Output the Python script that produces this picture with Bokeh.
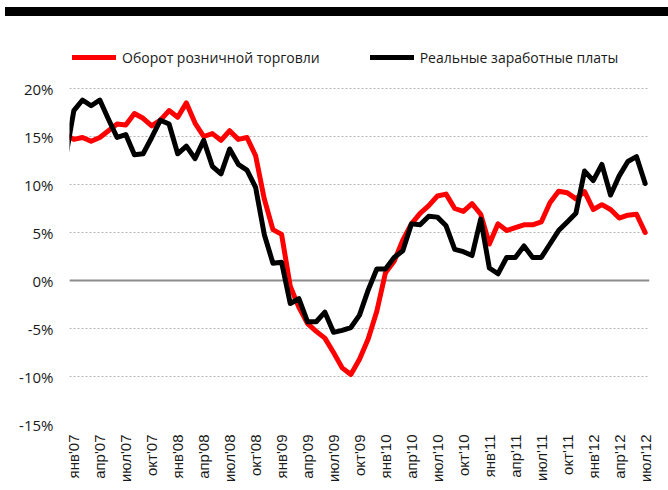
import math
from bokeh.plotting import figure
from bokeh.models import (FixedTicker, PrintfTickFormatter, Span, Legend,
                          LegendItem, Div, Range1d)
from bokeh.layouts import column
from bokeh.embed import file_html
from bokeh.resources import INLINE

# month index: -1 = Dec 2006, 0 = Jan 2007 ... 66 = Jul 2012
month_index = list(range(-1, 67))

retail = [15.2, 14.7, 14.9, 14.5, 14.9, 15.6, 16.3, 16.2, 17.4, 16.9, 16.1, 16.7,
          17.7, 17.0, 18.5, 16.4, 15.0, 15.3, 14.6, 15.6, 14.7, 14.9, 13.0, 8.5,
          5.3, 4.8, -0.6, -2.8, -4.5, -5.3, -6.0, -7.5, -9.1, -9.8, -8.2, -6.1,
          -3.2, 0.8, 2.0, 4.2, 5.9, 7.0, 7.8, 8.8, 9.0, 7.5, 7.2, 8.0,
          6.9, 3.8, 5.9, 5.2, 5.5, 5.8, 5.8, 6.1, 8.1, 9.3, 9.15, 8.5,
          9.25, 7.4, 7.9, 7.4, 6.5, 6.8, 6.9, 5.0]

wages = [12.5, 17.7, 18.8, 18.2, 18.8, 16.8, 14.9, 15.2, 13.1, 13.2, 14.9, 16.7,
         16.3, 13.2, 14.0, 12.7, 14.6, 11.9, 11.1, 13.7, 12.1, 11.5, 9.7, 4.8,
         1.8, 1.9, -2.4, -1.9, -4.3, -4.3, -3.3, -5.4, -5.2, -4.9, -3.6, -1.0,
         1.2, 1.2, 2.4, 3.1, 5.9, 5.8, 6.7, 6.6, 5.7, 3.25, 3.0, 2.6,
         6.4, 1.3, 0.7, 2.4, 2.4, 3.6, 2.4, 2.4, 3.8, 5.2, 6.1, 7.0,
         11.4, 10.4, 12.1, 8.9, 10.9, 12.4, 12.9, 10.1]

series_names = ["Оборот розничной торговли", "Реальные заработные платы"]

tick_positions = list(range(0, 67, 3))
tick_labels = ["янв'07", "апр'07", "июл'07", "окт'07",
               "янв'08", "апр'08", "июл'08", "окт'08",
               "янв'09", "апр'09", "июл'09", "окт'09",
               "янв'10", "апр'10", "июл'10", "окт'10",
               "янв'11", "апр'11", "июл'11", "окт'11",
               "янв'12", "апр'12", "июл'12"]
y_ticks = [-15, -10, -5, 0, 5, 10, 15, 20]

bar = Div(text="", width=663, height=9, margin=(7, 0, 0, 5),
          styles={"background-color": "#000000"})

p = figure(width=668, height=474, x_range=Range1d(-0.5, 66.5),
           y_range=Range1d(-15, 25), output_backend="svg",
           toolbar_location=None, min_border_left=69, min_border_right=19,
           min_border_top=24, min_border_bottom=66)
p.outline_line_color = None
p.background_fill_color = "white"

p.xgrid.visible = False
p.ygrid.ticker = FixedTicker(ticks=y_ticks)
p.ygrid.grid_line_color = "#b3b3b3"
p.ygrid.grid_line_dash = "2 2"
p.ygrid.grid_line_width = 1

zero = Span(location=0, dimension="width", line_color="#8c8c8c",
            line_width=2, level="underlay")
p.add_layout(zero)

r1 = p.line(month_index, retail, line_color="#ff0000", line_width=5,
            line_join="round", line_cap="round")
r2 = p.line(month_index, wages, line_color="#000000", line_width=5,
            line_join="round", line_cap="round")

yax = p.yaxis[0]
yax.ticker = FixedTicker(ticks=y_ticks)
yax.formatter = PrintfTickFormatter(format="%d%%")
yax.axis_line_color = None
yax.major_tick_line_color = None
yax.minor_tick_line_color = None
yax.major_tick_out = 0
yax.major_tick_in = 0
yax.major_label_standoff = 16
yax.major_label_text_font = "Open Sans"
yax.major_label_text_font_size = "15px"
yax.major_label_text_color = "#1a1a1a"

xax = p.xaxis[0]
xax.ticker = FixedTicker(ticks=tick_positions)
xax.major_label_overrides = {k: v for k, v in zip(tick_positions, tick_labels)}
xax.major_label_orientation = math.pi / 2
xax.axis_line_color = None
xax.major_tick_line_color = None
xax.minor_tick_line_color = None
xax.major_tick_out = 0
xax.major_tick_in = 0
xax.major_label_standoff = 10
xax.major_label_text_font = "Liberation Sans"
xax.major_label_text_font_size = "15px"
xax.major_label_text_color = "#1a1a1a"

legend = Legend(items=[LegendItem(label=series_names[0], renderers=[r1]),
                       LegendItem(label=series_names[1], renderers=[r2])],
                location=(3, 357), orientation="horizontal",
                border_line_color=None, background_fill_alpha=0,
                padding=0, margin=0, spacing=50, glyph_width=44,
                glyph_height=20, label_height=20, label_standoff=6,
                label_text_font="Open Sans", label_text_font_size="14px",
                label_text_color="#1a1a1a")
p.add_layout(legend)

layout = column(bar, p, spacing=0)
open("out.html", "w").write(file_html(layout, INLINE))
